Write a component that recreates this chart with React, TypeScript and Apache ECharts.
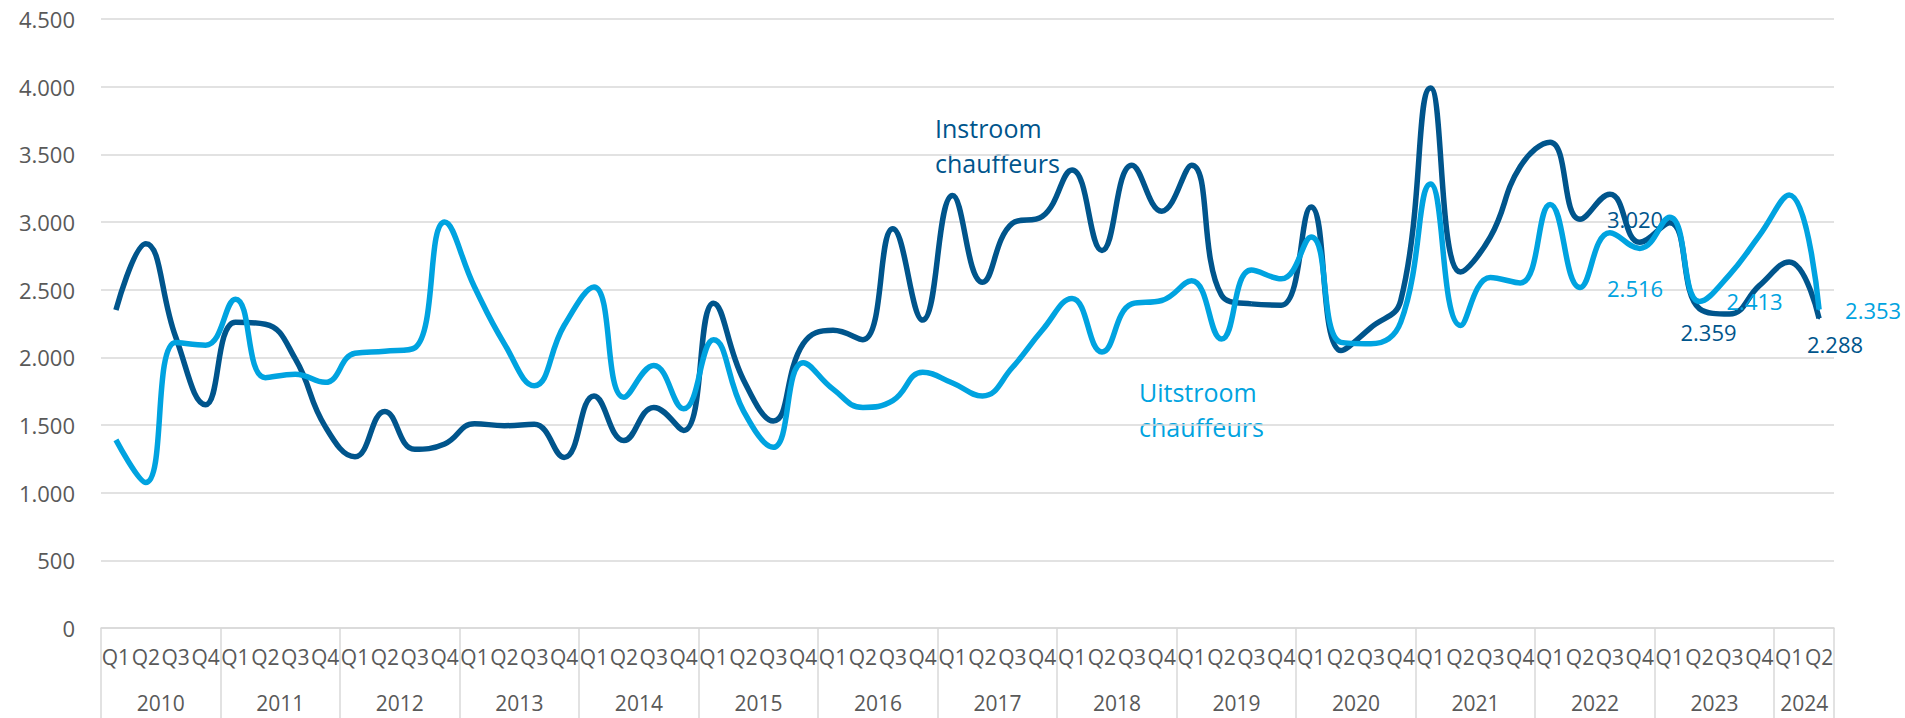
import React, { useEffect, useRef } from 'react';
import * as echarts from 'echarts';

const yearList = ['2010', '2011', '2012', '2013', '2014', '2015', '2016', '2017', '2018', '2019', '2020', '2021', '2022', '2023', '2024'];
const quarterNames = ['Q1', 'Q2', 'Q3', 'Q4'];

// Instroom chauffeurs, 2010 Q1 .. 2024 Q2
const instroom = [
  2350, 2840, 2150, 1650,
  2260, 2245, 1990, 1490,
  1265, 1600, 1320, 1360,
  1510, 1495, 1505, 1260,
  1715, 1385, 1630, 1460,
  2400, 1835, 1530, 2100,
  2200, 2130, 2950, 2275,
  3195, 2555, 2990, 3040,
  3385, 2790, 3420, 3080,
  3420, 2460, 2395, 2385,
  3110, 2050, 2220, 2420,
  3990, 2630, 2890, 3410,
  3590, 3020, 3205, 2850,
  2995, 2359, 2320, 2530,
  2705, 2288,
];

// Uitstroom chauffeurs, 2010 Q1 .. 2024 Q2
const uitstroom = [
  1390, 1075, 2110, 2090,
  2430, 1850, 1875, 1815,
  2030, 2045, 2070, 3000,
  2520, 2100, 1790, 2235,
  2520, 1705, 1940, 1620,
  2130, 1605, 1335, 1960,
  1765, 1630, 1680, 1890,
  1810, 1715, 1925, 2200,
  2435, 2040, 2395, 2420,
  2565, 2135, 2645, 2580,
  2890, 2110, 2100, 2260,
  3280, 2235, 2590, 2550,
  3130, 2516, 2920, 2805,
  3035, 2413, 2610, 2900,
  3200, 2353,
];

const labelledIdx = [49, 53, 57];

const quarterLabels: string[] = [];
const yearLabels: string[] = [];
yearList.forEach((y) => {
  quarterNames.forEach((q) => {
    if (quarterLabels.length < instroom.length) {
      quarterLabels.push(q);
      yearLabels.push(y);
    }
  });
});

const DARK = '#00558C';
const LIGHT = '#00A3E0';
const GRID = '#d9d9d9';
const TXT = '#595959';
const FONT = '"Open Sans", "Noto Sans", sans-serif';

function fmt(v: number): string {
  return String(Math.round(v)).replace(/\B(?=(\d{3})+(?!\d))/g, '.');
}

const darkLabelPos: Record<number, any> = {
  49: { position: 'right', distance: 26, offset: [0, 0] },
  53: { position: 'bottom', distance: 11, offset: [9, 0] },
  57: { position: 'bottom', distance: 14, offset: [16, 0] },
};
const lightLabelPos: Record<number, any> = {
  49: { position: 'right', distance: 26, offset: [0, 0] },
  53: { position: 'right', distance: 26, offset: [0, 0] },
  57: { position: 'right', distance: 25, offset: [0, 0] },
};

function buildData(values: number[], color: string, pos: Record<number, any>) {
  return values.map((v, i) => {
    if (labelledIdx.indexOf(i) >= 0) {
      return {
        value: v,
        symbol: 'circle',
        symbolSize: 2,
        itemStyle: { color },
        label: {
          show: true,
          ...pos[i],
          color,
          fontSize: 22,
          fontFamily: FONT,
          formatter: (p: any) => fmt(p.value),
        },
      };
    }
    return { value: v, symbol: 'none' };
  });
}

export default function App() {
  const ref = useRef<HTMLDivElement>(null);
  useEffect(() => {
    if (!ref.current) return;
    const chart = echarts.init(ref.current, undefined, { renderer: 'svg' });
    chart.setOption({
      animation: false,
      backgroundColor: '#ffffff',
      textStyle: { fontFamily: FONT },
      grid: { left: 101, right: 71, top: 19, bottom: 90, containLabel: false },
      xAxis: [
        {
          type: 'category',
          data: quarterLabels,
          boundaryGap: true,
          position: 'bottom',
          axisLine: { show: true, lineStyle: { color: GRID, width: 1.5 } },
          axisTick: {
            show: true,
            interval: (i: number) => i % 4 === 0,
            length: 90,
            lineStyle: { color: GRID, width: 1.5 },
          },
          axisLabel: { interval: 0, color: TXT, fontSize: 21, margin: 18, fontFamily: FONT },
          splitLine: { show: false },
        },
        {
          type: 'category',
          data: yearLabels,
          boundaryGap: true,
          position: 'bottom',
          axisLine: { show: false },
          axisTick: { show: false },
          splitLine: { show: false },
          axisLabel: {
            interval: (i: number) => (i % 4 === 1 && i < 56) || i === 56,
            color: TXT,
            fontSize: 21,
            margin: 64,
            padding: [0, 0, 0, 30],
            fontFamily: FONT,
          },
        },
      ],
      yAxis: {
        type: 'value',
        min: 0,
        max: 4500,
        interval: 500,
        axisLine: { show: false },
        axisTick: { show: false },
        splitLine: { lineStyle: { color: GRID, width: 1.5 } },
        axisLabel: { formatter: (v: number) => fmt(v), color: TXT, fontSize: 22, margin: 26, fontFamily: FONT },
      },
      series: [
        {
          type: 'line',
          name: 'Instroom chauffeurs',
          data: buildData(instroom, DARK, darkLabelPos),
          smooth: 0.45,
          symbol: 'none',
          showSymbol: true,
          showAllSymbol: true,
          lineStyle: { color: DARK, width: 5.5 },
          itemStyle: { color: DARK },
          z: 2,
        },
        {
          type: 'line',
          name: 'Uitstroom chauffeurs',
          data: buildData(uitstroom, LIGHT, lightLabelPos),
          smooth: 0.45,
          symbol: 'none',
          showSymbol: true,
          showAllSymbol: true,
          lineStyle: { color: LIGHT, width: 5.5 },
          itemStyle: { color: LIGHT },
          z: 3,
        },
      ],
      graphic: [
        { type: 'text', x: 935, y: 128, style: { text: 'Instroom', fill: DARK, font: `25px ${FONT}`, verticalAlign: 'middle', align: 'left' } },
        { type: 'text', x: 935, y: 163, style: { text: 'chauffeurs', fill: DARK, font: `25px ${FONT}`, verticalAlign: 'middle', align: 'left' } },
        { type: 'text', x: 1139, y: 392, style: { text: 'Uitstroom', fill: LIGHT, font: `25px ${FONT}`, verticalAlign: 'middle', align: 'left' } },
        { type: 'text', x: 1139, y: 427, style: { text: 'chauffeurs', fill: LIGHT, font: `25px ${FONT}`, verticalAlign: 'middle', align: 'left' } },
      ],
    });
    return () => chart.dispose();
  }, []);
  return <div ref={ref} style={{ position: 'fixed', left: 0, top: 0, width: 1905, height: 718 }} />;
}
